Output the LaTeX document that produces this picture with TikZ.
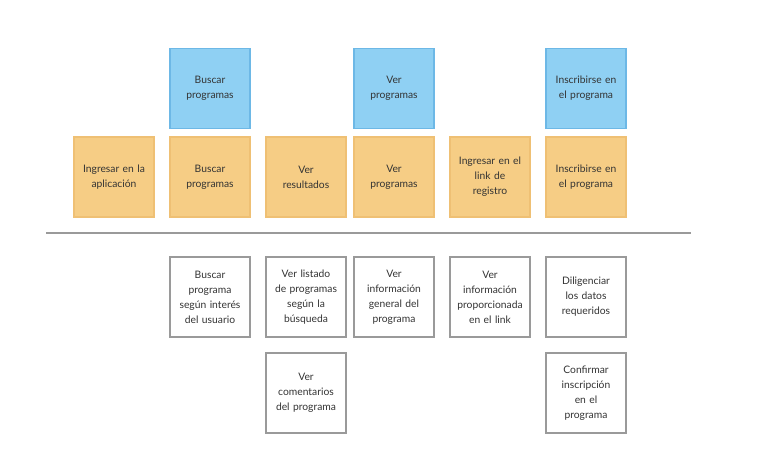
\documentclass[tikz,border=0pt]{standalone}
\usepackage{fontspec}
\setmainfont{Lato}
\definecolor{bluefill}{HTML}{8FD0F3}
\definecolor{blueline}{HTML}{6DB8E6}
\definecolor{orfill}{HTML}{F6CD85}
\definecolor{orline}{HTML}{EFC074}
\definecolor{grayline}{HTML}{9A9A9A}
\definecolor{txt}{HTML}{333333}
\begin{document}
\begin{tikzpicture}[x=1pt,y=-1pt,
  card/.style={minimum width=80pt,minimum height=80pt,inner sep=0pt,text width=76pt,align=center,
    font=\fontsize{10.3}{15}\selectfont,text=txt,line width=1.5pt},
  bluecard/.style={card,fill=bluefill,draw=blueline},
  orcard/.style={card,fill=orfill,draw=orline},
  graycard/.style={card,fill=white,draw=grayline}]
\useasboundingbox (0,0) rectangle (759,472);
\node[bluecard] (b1) at (210,88.5) {Buscar\\programas};
\node[bluecard] (b2) at (394,88.5) {Ver\\programas};
\node[bluecard] (b3) at (586,88.5) {Inscribirse en\\el programa};
\node[orcard] (o1) at (114,177) {Ingresar en la\\aplicación};
\node[orcard] (o2) at (210,177) {Buscar\\programas};
\node[orcard] (o3) at (306,177) {Ver\\resultados};
\node[orcard] (o4) at (394,177) {Ver\\programas};
\node[orcard] (o5) at (490,177) {Ingresar en el\\link de\\registro};
\node[orcard] (o6) at (586,177) {Inscribirse en\\el programa};
\coordinate (l1) at (46,233);
\coordinate (l2) at (691,233);
\draw[grayline,line width=2pt] (l1) -- (l2);
\node[graycard] (g1) at (210,297) {Buscar\\programa\\según interés\\del usuario};
\node[graycard] (g2) at (306,297) {Ver listado\\de programas\\según la\\búsqueda};
\node[graycard] (g3) at (394,297) {Ver\\información\\general del\\programa};
\node[graycard] (g4) at (490,297) {Ver\\información\\proporcionada\\en el link};
\node[graycard] (g5) at (586,297) {Diligenciar\\los datos\\requeridos};
\node[graycard] (g6) at (306,393) {Ver\\comentarios\\del programa};
\node[graycard] (g7) at (586,393) {Confirmar\\inscripción\\en el\\programa};
\end{tikzpicture}
\end{document}
